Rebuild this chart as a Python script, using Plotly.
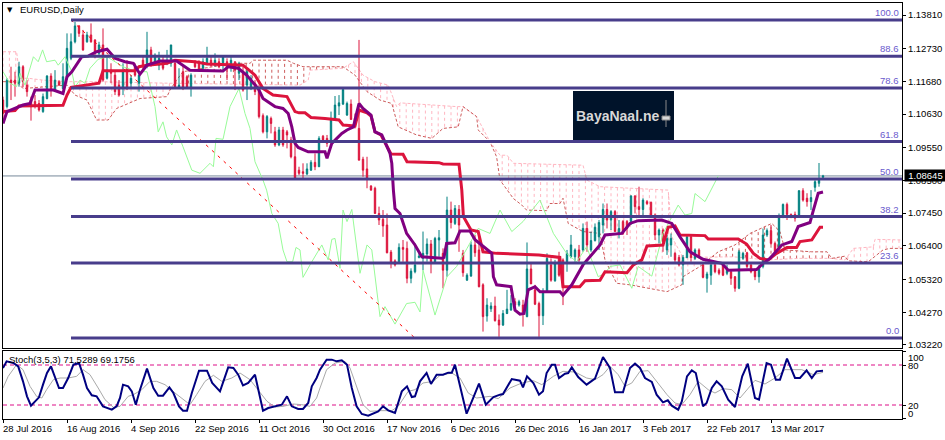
import numpy as np
import plotly.graph_objects as go

date_ticks = [0, 16, 32, 48, 64, 80, 96, 112, 128, 144, 160, 176, 192]
date_labels = ["28 Jul 2016", "16 Aug 2016", "4 Sep 2016", "22 Sep 2016", "11 Oct 2016", "30 Oct 2016",
               "17 Nov 2016", "6 Dec 2016", "26 Dec 2016", "16 Jan 2017", "3 Feb 2017", "22 Feb 2017", "13 Mar 2017"]
price_ticks = [1.13810, 1.12730, 1.11680, 1.10630, 1.09550, 1.08500, 1.07450, 1.06400, 1.05320, 1.04270, 1.03220]
last_price = 1.08645

opens = [1.1108,1.1087,1.1172,1.1172,1.1162,1.1215,1.1156,1.1108,1.1103,1.1097,
1.1071,1.1113,1.1185,1.1140,1.1167,1.1145,1.1178,1.1242,1.1295,1.1346,
1.1317,1.1295,1.1317,1.1301,1.1258,1.1285,1.1178,1.1204,1.1188,1.1156,
1.1145,1.1210,1.1162,1.1215,1.1162,1.1236,1.1215,1.1269,1.1231,1.1220,
1.1231,1.1226,1.1226,1.1226,1.1149,1.1199,1.1183,1.1149,1.1231,1.1226,
1.1210,1.1226,1.1236,1.1220,1.1231,1.1220,1.1231,1.1215,1.1231,1.1194,
1.1194,1.1156,1.1145,1.1162,1.1145,1.1058,1.1006,1.1049,1.1006,1.0964,
1.1012,1.1006,1.0980,1.0926,1.0883,1.0878,1.0871,1.0883,1.0908,1.0894,
1.0992,1.0985,1.0974,1.1046,1.1089,1.1095,1.1060,1.1095,1.1049,1.1017,
1.0918,1.0887,1.0832,1.0825,1.0744,1.0725,1.0707,1.0620,1.0592,1.0589,
1.0635,1.0632,1.0536,1.0557,1.0603,1.0600,1.0614,1.0646,1.0589,1.0659,
1.0616,1.0562,1.0755,1.0712,1.0757,1.0616,1.0530,1.0543,1.0643,1.0627,
1.0515,1.0415,1.0438,1.0447,1.0402,1.0386,1.0423,1.0434,1.0461,1.0450,
1.0450,1.0413,1.0566,1.0499,1.0455,1.0416,1.0493,1.0579,1.0528,1.0600,
1.0595,1.0589,1.0605,1.0605,1.0627,1.0627,1.0696,1.0627,1.0657,1.0669,
1.0707,1.0757,1.0723,1.0750,1.0680,1.0718,1.0718,1.0718,1.0800,1.0766,
1.0757,1.0782,1.0780,1.0739,1.0675,1.0691,1.0627,1.0643,1.0616,1.0603,
1.0579,1.0603,1.0669,1.0600,1.0627,1.0579,1.0536,1.0546,1.0579,1.0562,
1.0579,1.0552,1.0557,1.0541,1.0504,1.0600,1.0618,1.0579,1.0562,1.0541,
1.0574,1.0675,1.0689,1.0648,1.0632,1.0734,1.0773,1.0741,1.0741,1.0739,
1.0817,1.0793,1.0782,1.0828,1.0841,1.0860]
highs = [1.1119,1.1178,1.1215,1.1199,1.1231,1.1220,1.1172,1.1119,1.1124,1.1108,
1.1129,1.1188,1.1194,1.1204,1.1172,1.1226,1.1322,1.1322,1.1359,1.1349,
1.1333,1.1327,1.1354,1.1303,1.1295,1.1338,1.1247,1.1226,1.1199,1.1172,
1.1226,1.1236,1.1188,1.1226,1.1199,1.1247,1.1327,1.1279,1.1258,1.1263,
1.1247,1.1269,1.1285,1.1236,1.1210,1.1220,1.1188,1.1194,1.1236,1.1236,
1.1242,1.1279,1.1247,1.1258,1.1242,1.1252,1.1242,1.1247,1.1231,1.1231,
1.1215,1.1210,1.1188,1.1172,1.1156,1.1065,1.1060,1.1055,1.1022,1.1022,
1.1022,1.1012,1.0990,1.0969,1.0894,1.0905,1.0905,1.0915,1.0937,1.0992,
1.0996,1.0996,1.1071,1.1121,1.1124,1.1142,1.1103,1.1110,1.1065,1.1301,
1.0926,1.0926,1.0835,1.0830,1.0766,1.0755,1.0744,1.0627,1.0597,1.0648,
1.0659,1.0654,1.0568,1.0648,1.0621,1.0686,1.0664,1.0659,1.0669,1.0691,
1.0632,1.0798,1.0782,1.0771,1.0771,1.0627,1.0552,1.0654,1.0675,1.0675,
1.0520,1.0472,1.0459,1.0477,1.0420,1.0434,1.0499,1.0482,1.0472,1.0467,
1.0467,1.0651,1.0584,1.0515,1.0461,1.0504,1.0616,1.0600,1.0595,1.0621,
1.0600,1.0627,1.0675,1.0632,1.0643,1.0712,1.0718,1.0686,1.0712,1.0723,
1.0776,1.0776,1.0755,1.0755,1.0723,1.0723,1.0723,1.0803,1.0803,1.0830,
1.0793,1.0787,1.0782,1.0744,1.0696,1.0696,1.0675,1.0680,1.0621,1.0611,
1.0611,1.0675,1.0672,1.0632,1.0632,1.0584,1.0557,1.0584,1.0584,1.0568,
1.0584,1.0579,1.0562,1.0543,1.0627,1.0621,1.0621,1.0584,1.0568,1.0579,
1.0696,1.0696,1.0707,1.0654,1.0744,1.0776,1.0779,1.0744,1.0750,1.0819,
1.0825,1.0809,1.0819,1.0851,1.0906,1.0868]
lows = [1.1044,1.1081,1.1108,1.1119,1.1151,1.1149,1.1119,1.1042,1.1081,1.1071,
1.1067,1.1110,1.1119,1.1135,1.1153,1.1142,1.1172,1.1236,1.1290,1.1311,
1.1266,1.1292,1.1292,1.1242,1.1252,1.1167,1.1174,1.1162,1.1124,1.1119,
1.1124,1.1140,1.1145,1.1183,1.1135,1.1199,1.1210,1.1215,1.1226,1.1204,
1.1204,1.1220,1.1215,1.1149,1.1145,1.1140,1.1145,1.1119,1.1210,1.1199,
1.1204,1.1220,1.1215,1.1215,1.1210,1.1199,1.1172,1.1199,1.1140,1.1172,
1.1135,1.1108,1.1140,1.1124,1.1049,1.1001,1.0985,1.1001,1.0958,1.0960,
1.0958,1.0953,1.0921,1.0857,1.0867,1.0857,1.0867,1.0881,1.0883,1.0894,
1.0974,1.0958,1.0969,1.1044,1.1060,1.1092,1.1057,1.1044,1.1017,1.0915,
1.0862,1.0825,1.0817,1.0744,1.0707,1.0669,1.0616,1.0568,1.0574,1.0584,
1.0589,1.0520,1.0520,1.0552,1.0600,1.0562,1.0589,1.0552,1.0584,1.0605,
1.0504,1.0541,1.0696,1.0707,1.0621,1.0541,1.0528,1.0541,1.0605,1.0507,
1.0365,1.0397,1.0428,1.0397,1.0348,1.0383,1.0421,1.0432,1.0439,1.0445,
1.0381,1.0411,1.0518,1.0450,1.0348,1.0386,1.0490,1.0525,1.0525,1.0541,
1.0450,1.0557,1.0600,1.0589,1.0589,1.0621,1.0621,1.0621,1.0654,1.0627,
1.0680,1.0696,1.0691,1.0686,1.0664,1.0675,1.0675,1.0707,1.0744,1.0739,
1.0734,1.0771,1.0734,1.0659,1.0648,1.0621,1.0611,1.0605,1.0589,1.0574,
1.0515,1.0600,1.0589,1.0595,1.0600,1.0536,1.0490,1.0515,1.0552,1.0546,
1.0543,1.0546,1.0515,1.0493,1.0501,1.0595,1.0568,1.0552,1.0530,1.0522,
1.0568,1.0669,1.0643,1.0611,1.0627,1.0729,1.0723,1.0729,1.0718,1.0734,
1.0782,1.0766,1.0755,1.0814,1.0830,1.0857]
closes = [1.1065,1.1172,1.1162,1.1162,1.1215,1.1167,1.1135,1.1087,1.1089,1.1076,
1.1119,1.1185,1.1140,1.1172,1.1156,1.1183,1.1274,1.1295,1.1346,1.1322,
1.1269,1.1317,1.1295,1.1263,1.1285,1.1172,1.1204,1.1194,1.1135,1.1124,
1.1199,1.1145,1.1178,1.1188,1.1188,1.1215,1.1269,1.1226,1.1252,1.1242,
1.1210,1.1236,1.1285,1.1151,1.1156,1.1149,1.1149,1.1188,1.1215,1.1204,
1.1231,1.1242,1.1220,1.1236,1.1215,1.1247,1.1210,1.1236,1.1204,1.1226,
1.1140,1.1199,1.1178,1.1135,1.1055,1.1006,1.1055,1.1033,1.0964,1.1012,
1.0964,1.0996,1.0926,1.0857,1.0873,1.0873,1.0887,1.0908,1.0894,1.0985,
1.0980,1.0969,1.1044,1.1092,1.1099,1.1142,1.1097,1.1046,1.1033,1.0915,
1.0883,1.0857,1.0819,1.0744,1.0723,1.0704,1.0618,1.0584,1.0579,1.0635,
1.0629,1.0536,1.0559,1.0579,1.0607,1.0616,1.0646,1.0589,1.0664,1.0666,
1.0562,1.0755,1.0715,1.0760,1.0707,1.0554,1.0546,1.0643,1.0618,1.0509,
1.0413,1.0450,1.0447,1.0400,1.0386,1.0423,1.0437,1.0455,1.0450,1.0461,
1.0428,1.0566,1.0518,1.0453,1.0416,1.0493,1.0600,1.0530,1.0584,1.0546,
1.0509,1.0616,1.0643,1.0627,1.0595,1.0696,1.0643,1.0657,1.0700,1.0715,
1.0757,1.0723,1.0750,1.0686,1.0696,1.0680,1.0696,1.0800,1.0766,1.0757,
1.0787,1.0776,1.0739,1.0675,1.0691,1.0654,1.0664,1.0664,1.0595,1.0579,
1.0603,1.0669,1.0603,1.0627,1.0603,1.0539,1.0550,1.0579,1.0557,1.0552,
1.0546,1.0568,1.0536,1.0504,1.0621,1.0616,1.0574,1.0557,1.0541,1.0574,
1.0675,1.0689,1.0648,1.0621,1.0734,1.0773,1.0741,1.0734,1.0729,1.0817,
1.0787,1.0782,1.0795,1.0846,1.0851,1.08645]
assert len(opens) == len(highs) == len(lows) == len(closes) == 206

kijun_x = [0,3,4,15,16,17,24,25,33,34,36,41,43,48,51,60,63,65,67.5,71,73,74,75.5,77,80.5,84,85,88,89,91,92,93,94.5,97,100,101,109,110,114,114.7,115.1,117,118.8,120,123.4,134,139.2,140,144.2,145.5,149.25,150.5,156,157.6,159.7,161,165,166.3,168,169.25,175.5,176.3,183.8,185.9,187.6,189.25,191.3,193.4,196,198.4,199.25,202.2,204.25,205]
kijun_y = [1.1071,1.1074,1.1089,1.1091,1.1124,1.1149,1.1162,1.1202,1.1202,1.1215,1.1220,1.1226,1.1236,1.1231,1.1224,1.1220,1.1188,1.1145,1.1124,1.1119,1.1071,1.1067,1.1067,1.1052,1.1049,1.1044,1.1028,1.1025,1.1076,1.1067,1.1057,1.1006,1.0996,1.0935,1.0934,1.0910,1.0907,1.0903,1.0902,1.0819,1.0734,1.0691,1.0686,1.0621,1.0616,1.0611,1.0603,1.0509,1.0509,1.0528,1.0530,1.0557,1.0554,1.0579,1.0595,1.0640,1.0643,1.0700,1.0704,1.0675,1.0673,1.0662,1.0662,1.0646,1.0616,1.0600,1.0595,1.0616,1.0635,1.0635,1.0654,1.0659,1.0700,1.0700]

tenkan_x = [0,1,5,6.75,8,12.6,15,16,17.2,19.7,21.3,23.4,26,28,30.5,32.6,34.25,36,39.25,43.4,46.75,51.75,55,56.3,58.8,60.9,63.8,65,68,70,71.3,72.2,73,73.8,75.5,76.3,80.5,81,82.2,83,84.7,86,87.6,88.4,89,90,92,93,94.7,96.75,97.2,97.6,98,99.25,100.9,103,104.7,109.7,110.25,110.9,113,114.25,116.75,118,122.2,122.6,123.4,127,128,129.25,130.25,131.3,133,134.25,139.25,140,142.2,145,149.25,150.5,154.7,156.75,158.8,164.7,167.2,169.25,171.75,175,179.7,181.3,188.4,190,191.75,194.7,197.2,198.8,201.75,202.6,203.8,205]
tenkan_y = [1.1033,1.1071,1.1092,1.1097,1.1140,1.1140,1.1129,1.1183,1.1199,1.1247,1.1249,1.1263,1.1271,1.1242,1.1231,1.1226,1.1191,1.1220,1.1233,1.1233,1.1204,1.1201,1.1201,1.1215,1.1210,1.1188,1.1145,1.1113,1.1087,1.1081,1.1065,1.1022,1.0969,1.0956,1.0948,1.0942,1.0942,1.0921,1.0969,1.0980,1.1001,1.1012,1.1022,1.1065,1.1097,1.1081,1.1060,1.1006,1.0996,1.0937,1.0905,1.0819,1.0760,1.0744,1.0680,1.0643,1.0605,1.0600,1.0603,1.0648,1.0650,1.0688,1.0688,1.0660,1.0616,1.0541,1.0515,1.0509,1.0434,1.0421,1.0423,1.0499,1.0509,1.0493,1.0493,1.0482,1.0515,1.0579,1.0643,1.0675,1.0680,1.0712,1.0721,1.0723,1.0712,1.0669,1.0621,1.0597,1.0584,1.0562,1.0564,1.0584,1.0600,1.0643,1.0654,1.0702,1.0715,1.0755,1.0809,1.0813]

chikou_x = [0,1.75,3.4,4.25,5.5,6.3,7.6,8.8,9.9,10.9,13,13.8,15.5,17.2,18,19.25,20.5,21.75,23.8,26,30,33.4,36,38,38.8,40,40.9,42.2,43.4,45,47.2,49.25,51.75,52.6,53.25,55,56.75,59,60.5,61.75,63,65,65.9,67.2,68.8,70,71,72.4,73.25,74.25,75,76.75,79.7,81.3,82.2,83,84.25,85,86,87.2,89.25,91,92.2,94.25,95.5,98,100.9,103,104.25,105,108,111,113.4,116,118.8,121.75,124.25,127.2,130,134.25,137.6,140.9,143.4,145.9,148.8,150.5,151.75,154.25,157.2,158.8,162.2,165,168.8,170.5,172.2,173,175.5,178.8]
chikou_y = [1.1199,1.1162,1.1151,1.1194,1.1156,1.1194,1.1247,1.1231,1.1269,1.1231,1.1236,1.1220,1.1247,1.1199,1.1151,1.1172,1.1162,1.1210,1.1239,1.1247,1.1215,1.1199,1.1199,1.1087,1.1006,1.1038,1.0990,1.0964,1.1012,1.0958,1.0883,1.0873,1.0905,1.0894,1.0985,1.0982,1.1087,1.1145,1.1065,1.1017,1.0910,1.0851,1.0819,1.0744,1.0712,1.0627,1.0589,1.0589,1.0635,1.0627,1.0539,1.0579,1.0643,1.0595,1.0661,1.0664,1.0568,1.0755,1.0718,1.0757,1.0552,1.0643,1.0627,1.0413,1.0445,1.0389,1.0455,1.0459,1.0428,1.0562,1.0418,1.0541,1.0574,1.0632,1.0696,1.0680,1.0755,1.0686,1.0718,1.0787,1.0680,1.0616,1.0589,1.0637,1.0541,1.0552,1.0574,1.0579,1.0504,1.0574,1.0543,1.0680,1.0771,1.0739,1.0744,1.0808,1.0782,1.0864]

span_a_x = [0,3.4,4.25,6.3,10,16,24,41.75,74.25,75,76.3,76.75,85,87.6,90,93,96.3,98.4,99.25,113.4,115,118.4,121.75,124.25,126,127.6,145,146,149.25,166.3,167.2,170,182.6,191,199.25,207,210.5,212.6,217.6,218,224.75]
span_a_y = [1.1263,1.1263,1.1178,1.1178,1.1172,1.1167,1.1167,1.1162,1.1156,1.1162,1.1172,1.1204,1.1210,1.1231,1.1188,1.1167,1.1156,1.1087,1.1099,1.1087,1.1087,1.1055,1.0974,1.0931,1.0931,1.0905,1.0899,1.0851,1.0830,1.0819,1.0669,1.0603,1.0605,1.0595,1.0600,1.0600,1.0595,1.0632,1.0637,1.0661,1.0659]
span_b_x = [0,3.4,5,16,18,21,23.4,26.3,28.4,34.25,41,41.75,43.4,45,57.6,61.75,62.6,71,72.6,74.25,75,85,88,91,94.25,97.2,98.8,103.4,107.2,110,113.8,115,118.4,118.8,121.75,123.4,124.25,127.6,129.7,130.9,135.9,136.75,139.25,140,140.9,141.3,145,149.25,150.5,153.4,156.75,166,169.7,170,174.25,178.8,183,186.75,192.2,194.25,195.5,202.2,206,207.2,210.5,211.3,216.3,220,221.75,224.75]
span_b_y = [1.1167,1.1167,1.1145,1.1156,1.1124,1.1108,1.1044,1.1044,1.1081,1.1113,1.1119,1.1140,1.1172,1.1199,1.1226,1.1226,1.1236,1.1236,1.1226,1.1220,1.1215,1.1215,1.1188,1.1135,1.1108,1.1097,1.1022,1.0996,1.0985,1.1017,1.1022,1.1087,1.1055,1.1012,1.0974,1.0926,1.0851,1.0792,1.0771,1.0755,1.0753,1.0776,1.0776,1.0793,1.0744,1.0712,1.0686,1.0680,1.0595,1.0520,1.0515,1.0493,1.0515,1.0541,1.0574,1.0621,1.0643,1.0680,1.0712,1.0686,1.0627,1.0621,1.0621,1.0600,1.0607,1.0592,1.0589,1.0627,1.0632,1.0632]

fib_start = 17
fib_end = 225
fib_names = ["100.0", "88.6", "78.6", "61.8", "50.0", "38.2", "23.6", "0.0"]
fib_prices = [1.1365, 1.1249, 1.1147, 1.0975, 1.0855, 1.0734, 1.0585, 1.0344]
trend_x = [17, 103]
trend_y = [1.1365, 1.0344]

stoch_main_x = [0,0.9,2.6,3.8,5,6,7,8,9,10,11,12,13,14,15,16.3,17.6,19,20,21,22.2,23.4,25,27.2,28.4,29.25,30,31.3,32.2,33.2,34.25,36,37.6,38.8,40,41.6,42.6,44,45,46,47.2,49,51,52.3,54.25,55.5,56.3,57.6,58.8,60,61.3,63,64.25,65,66.3,68,69.7,71,72.2,73.8,75,76.3,77.2,78.4,79.25,80.9,82.2,83.4,84.7,86,87.2,88.4,89.7,91.3,93,93.8,95,96.3,98,99.7,101,102.2,103,104.25,105.9,107,108.4,110,111.3,112.2,113,114.25,115.9,117.2,119,120.7,122.6,124.25,125,127.2,129.25,130,131,132.6,134,135,135.9,137.2,138,139,140.5,141.3,142.2,143.8,145.9,148,150,151.75,153,155,156.75,158,159.25,160.5,162.2,163.4,165,166.2,167.2,168.8,169.7,171,172.2,173.2,175,175.9,177.2,178.4,179.7,181.3,183,184.8,186.2,188,189,190.9,192,193.2,194.25,196,198,199.25,200.9,202.2,203.4,205]
stoch_main_y = [75.5,85.5,83,78,55.5,33,19,25.5,31.5,50.5,68,78,63,45.5,45.5,60.5,80.5,83,65.5,45.5,34.5,33,18,13,18,30.5,50.5,48,40.5,20.5,43,74.5,45.5,34,34,46.5,38,18,11.5,11.5,38,71.5,71.5,53,40.5,63,76.5,75.5,65.5,49.5,53,65.5,30.5,11.5,15.5,18,20.5,33,18,14,14,23,48,60.5,73,88,88,85.5,87,80.5,45.5,18,6.5,4,8,10.5,18,12,8,40.5,48,32,33,55.5,68,51.5,65.5,65.5,68.5,68.5,80.5,50.5,7,25.5,52,20.5,32,35.5,36.5,59,56.5,46.5,63,53,35.5,40.5,68,80.5,80.5,60.5,67,68,76.5,62,50.5,59.5,92,75.5,39,39,75.5,82,75.5,60.5,54.5,35.5,24,27,19,13,25.5,63,72,68,18,23,45.5,55.5,48,28,17,63,82,30.5,28,83,80.5,58,58,89.5,60.5,60.5,72,60.5,70.5,71.5]
stoch_signal_x = [0,1.3,3.4,5,6.75,8.4,9.7,10.9,12.6,14.25,16.3,18.4,20,21.75,23.8,25.5,27.6,29.25,31.3,32.6,34.7,36.75,38.4,40.5,43,45,46.75,48.4,50.5,52.6,54.7,57.2,59.25,61.75,63.8,66,68,70,72.6,74.7,76.75,78.4,79.25,80.9,83,85.5,86.75,88.4,90,91.75,94.25,97.2,98.8,101.3,103,105,107.6,109.25,112.2,114.25,116.3,118.4,121.75,123.8,126.75,129.7,132.6,134.7,137.6,140,143,145.9,148,150,151.75,153.8,155.5,157.2,159.25,161.3,163.4,166,168,169.7,171.75,173.8,176.3,178,180,182.2,184.25,186.3,188,190.5,193,195.5,199.7,202.6,205]
stoch_signal_y = [45.5,63,80.5,73,48,33,30.5,43,58,60.5,60.5,63,73,65.5,45.5,28,16.5,18,33,35.5,43,55.5,55.5,50.5,38,28,20.5,35.5,55.5,64.5,55.5,60.5,68,58,43,25.5,17,18,21.5,20.5,18,30.5,45.5,73,83,85.5,75.5,48,20.5,10.5,11.5,11.5,18,40.5,43,53,55.5,64.5,68,60.5,38,30.5,33,29.5,45.5,53,56.5,50.5,63,70.5,69.5,60.5,58,65.5,78,65.5,48,53,70.5,71.5,55.5,35.5,23,20.5,35.5,55.5,43,38,44.5,43,30.5,45.5,57,51.5,60.5,73,73,65.5,69]
stoch_levels = [80, 20]
stoch_tick_vals = [100, 80, 20, 0]
stoch_tick_text = ["100", "80", "20", "0"]
stoch_label_pos = [92, 80, 20, 8]

W, H = 945, 440
HP = 438  # height used for placing panes, so they land where the reference has them
BULL, BEAR = "#008080", "#DC143C"
FONT = "Liberation Sans"
TEXT_SIZE = 9.5
xdom = [3 / W, 902 / W]
ydom1 = [1 - 348 / HP, 1 - 3 / HP]
ydom2 = [1 - 419 / HP, 1 - 351 / HP]
price_range = [1.03123, 1.14195]
bars = list(range(len(closes)))

fig = go.Figure()

# Ichimoku cloud hatching, kept on the base axes so it sits under the candles
spacing = 1.6
hx = np.arange(0, 224.75, spacing)
ha = np.interp(hx, span_a_x, span_a_y)
hb = np.interp(hx, span_b_x, span_b_y)
for mask, colour in ((ha >= hb, "#FFB6C1"), (ha < hb, "#CD5C5C")):
    xs, ys = [], []
    for x, a, b in zip(hx[mask], ha[mask], hb[mask]):
        xs += [x, x, None]
        ys += [a, b, None]
    fig.add_trace(go.Scatter(x=xs, y=ys, mode="lines", xaxis="x", yaxis="y",
                             line=dict(color=colour, width=1, dash="3px,3px"), hoverinfo="skip"))
fig.add_trace(go.Scatter(x=span_a_x, y=span_a_y, mode="lines", xaxis="x", yaxis="y",
                         line=dict(color="#FFB6C1", width=1, dash="3px,2px"), hoverinfo="skip"))
fig.add_trace(go.Scatter(x=span_b_x, y=span_b_y, mode="lines", xaxis="x", yaxis="y",
                         line=dict(color="#CD5C5C", width=1, dash="3px,2px"), hoverinfo="skip"))
fig.add_trace(go.Scatter(x=[0, 224.75], y=[last_price, last_price], mode="lines", xaxis="x", yaxis="y",
                         line=dict(color="#778899", width=1), hoverinfo="skip"))

fig.add_trace(go.Candlestick(x=bars, open=opens, high=highs, low=lows, close=closes, xaxis="x", yaxis="y3",
                             whiskerwidth=0,
                             increasing=dict(line=dict(color=BULL, width=1), fillcolor=BULL),
                             decreasing=dict(line=dict(color=BEAR, width=1), fillcolor=BEAR),
                             hoverinfo="skip"))
fig.add_trace(go.Scatter(x=chikou_x, y=chikou_y, mode="lines", xaxis="x", yaxis="y3",
                         line=dict(color="#98FB98", width=1), hoverinfo="skip"))
fig.add_trace(go.Scatter(x=trend_x, y=trend_y, mode="lines", xaxis="x", yaxis="y3",
                         line=dict(color="#FF0000", width=1, dash="3px,5px"), hoverinfo="skip"))
fig.add_trace(go.Scatter(x=kijun_x, y=kijun_y, mode="lines", xaxis="x", yaxis="y3",
                         line=dict(color=BEAR, width=3), hoverinfo="skip"))
fig.add_trace(go.Scatter(x=tenkan_x, y=tenkan_y, mode="lines", xaxis="x", yaxis="y3",
                         line=dict(color="#800080", width=3), hoverinfo="skip"))
for level in fib_prices:
    fig.add_trace(go.Scatter(x=[fib_start, fib_end], y=[level, level], mode="lines", xaxis="x", yaxis="y3",
                             line=dict(color="#483D8B", width=3), hoverinfo="skip"))

# Stochastic pane
for level in stoch_levels:
    fig.add_trace(go.Scatter(x=[0, 224.75], y=[level, level], mode="lines", xaxis="x2", yaxis="y2",
                             line=dict(color="#DD0F88", width=1, dash="4px,3px"), hoverinfo="skip"))
fig.add_trace(go.Scatter(x=stoch_signal_x, y=stoch_signal_y, mode="lines", xaxis="x2", yaxis="y2",
                         line=dict(color="#A9A9A9", width=1), hoverinfo="skip"))
fig.add_trace(go.Scatter(x=stoch_main_x, y=stoch_main_y, mode="lines", xaxis="x2", yaxis="y2",
                         line=dict(color="#000080", width=2), hoverinfo="skip"))

ann = []
txt = dict(family=FONT, size=TEXT_SIZE, color="#000000")
for i, name in zip(date_ticks, date_labels):
    ann.append(dict(text=name, x=i, xref="x2", y=1 - 421 / HP, yref="paper", xanchor="left", yanchor="top",
                    xshift=-2, showarrow=False, font=txt))
for name, level in zip(fib_names, fib_prices):
    ann.append(dict(text=name, x=xdom[1], xref="paper", y=level, yref="y3", xanchor="right", yanchor="bottom",
                    xshift=-1, yshift=0, showarrow=False, font=dict(family=FONT, size=TEXT_SIZE, color="#6A5ACD")))
for name, pos in zip(stoch_tick_text, stoch_label_pos):
    ann.append(dict(text=name, x=xdom[1], xref="paper", y=pos, yref="y2", xanchor="left", yanchor="middle",
                    xshift=4, showarrow=False, font=txt))
ann.append(dict(text=f"{last_price:.5f}", x=904 / W, xref="paper", y=last_price, yref="y3", xanchor="left",
                yanchor="middle", width=41, height=11, bgcolor="#000000", borderpad=0, showarrow=False,
                font=dict(family=FONT, size=TEXT_SIZE, color="#FFFFFF")))
ann.append(dict(text="▼", x=5 / W, xref="paper", y=1 - 10 / HP, yref="paper", xanchor="left", yanchor="middle",
                showarrow=False, font=dict(family="DejaVu Sans", size=7, color="#000000")))
ann.append(dict(text="EURUSD,Daily", x=18 / W, xref="paper", y=1 - 10 / HP, yref="paper", xanchor="left",
                yanchor="middle", showarrow=False, font=txt))
ann.append(dict(text="Stoch(3,5,3) 71.5289 69.1756", x=7 / W, xref="paper", y=1 - 359 / HP, yref="paper",
                xanchor="left", yanchor="middle", showarrow=False, font=txt))
ann.append(dict(text="<b>BayaNaal.ne</b>", x=574 / W, xref="paper", y=1 - 116 / HP, yref="paper", xanchor="left",
                yanchor="middle", showarrow=False, font=dict(family="Liberation Sans", size=14, color="#D8D8D8")))

shapes = [dict(type="rect", xref="paper", yref="paper", x0=573 / W, x1=674 / W, y0=1 - 140 / HP, y1=1 - 91 / HP,
               fillcolor="#00132A", line_width=0, layer="above"),
          dict(type="line", xref="paper", yref="paper", x0=666 / W, x1=666 / W, y0=1 - 127 / HP, y1=1 - 100 / HP,
               line=dict(color="#8A8A8A", width=1), layer="above"),
          dict(type="rect", xref="paper", yref="paper", x0=662 / W, x1=670 / W, y0=1 - 120 / HP, y1=1 - 116 / HP,
               fillcolor="#D8D8D8", line=dict(color="#8A8A8A", width=1), layer="above")]

axis_common = dict(showgrid=False, zeroline=False, showline=True, linecolor="#000000", linewidth=1, mirror=True)
fig.update_layout(
    width=W, height=H, margin=dict(l=0, r=0, t=0, b=0), autosize=False,
    paper_bgcolor="#FFFFFF", plot_bgcolor="#FFFFFF", showlegend=False, boxgap=0.5,
    font=dict(family=FONT, size=TEXT_SIZE, color="#000000"),
    xaxis=dict(domain=xdom, range=[0, 224.75], anchor="y", showticklabels=False, ticks="",
               rangeslider=dict(visible=False), **axis_common),
    yaxis=dict(domain=ydom1, range=price_range, anchor="x", side="right", tickmode="array",
               tickvals=price_ticks, ticktext=[f"{p:.5f}" for p in price_ticks],
               ticks="outside", ticklen=3, tickcolor="#000000", tickfont=txt, **axis_common),
    yaxis3=dict(domain=ydom1, range=price_range, overlaying="y", side="right", visible=False, anchor="x"),
    xaxis2=dict(domain=xdom, range=[0, 224.75], anchor="y2", tickmode="array", tickvals=date_ticks,
                showticklabels=False, ticks="outside", ticklen=3, tickcolor="#000000", **axis_common),
    yaxis2=dict(domain=ydom2, range=[-1, 101], anchor="x2", side="right", tickmode="array",
                tickvals=stoch_tick_vals, showticklabels=False, ticks="outside", ticklen=3,
                tickcolor="#000000", **axis_common),
    annotations=ann, shapes=shapes,
)
fig.write_html("out.html", config=dict(displayModeBar=False),
               post_script="document.body.style.margin='0';")
